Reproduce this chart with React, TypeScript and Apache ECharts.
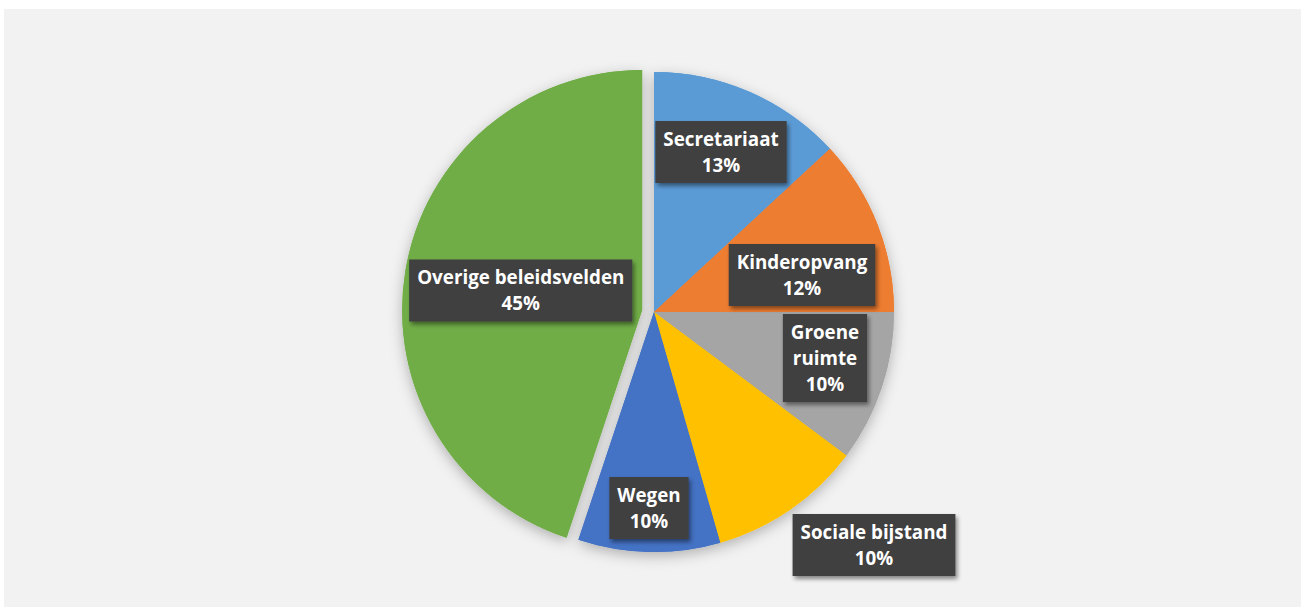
import React, { useEffect, useRef } from "react";
import * as echarts from "echarts";

const categories = [
  "Secretariaat",
  "Kinderopvang",
  "Groene ruimte",
  "Sociale bijstand",
  "Wegen",
  "Overige beleidsvelden",
];
const values = [13.1, 11.9, 10.2, 10.35, 9.55, 44.9];
const colors = ["#5B9BD5", "#ED7D31", "#A5A5A5", "#FFC000", "#4472C4", "#70AD47"];
// label box centres (px)
const labelCenters: [number, number][] = [
  [721, 152],
  [802, 275],
  [825, 358],
  [874, 545],
  [649, 508],
  [529, 280],
];
const wrappedIndex = 2;
const explodedIndex = 5;

export default function App() {
  const ref = useRef<HTMLDivElement>(null);
  useEffect(() => {
    if (!ref.current) return;
    const chart = echarts.init(ref.current, undefined, { renderer: "svg" });
    const data = categories.map((name, i) => ({
      name,
      value: values[i],
      selected: i === explodedIndex,
      itemStyle: { color: colors[i] },
    }));
    const common = {
      type: "pie",
      center: [654, 312],
      radius: 240,
      startAngle: 90,
      clockwise: true,
      selectedMode: "multiple",
      selectedOffset: 12,
      percentPrecision: 0,
      avoidLabelOverlap: false,
      emphasis: { disabled: true },
      silent: true,
      labelLine: { show: false },
      data,
    };
    chart.setOption({
      animation: false,
      backgroundColor: "#ffffff",
      graphic: [
        {
          type: "rect",
          shape: { x: 4, y: 9, width: 1297, height: 598 },
          style: { fill: "#f2f2f2" },
          z: -10,
          silent: true,
        },
      ],
      series: [
        {
          ...common,
          z: 1,
          label: { show: false },
          itemStyle: {
            shadowBlur: 14,
            shadowColor: "rgba(0,0,0,0.28)",
            shadowOffsetY: 4,
          },
        },
        {
          ...common,
          z: 2,
          label: {
            show: true,
            position: "inside",
            formatter: (p: any) =>
              (p.dataIndex === wrappedIndex ? p.name.replace(" ", "\n") : p.name) +
              "\n" +
              p.percent +
              "%",
            color: "#ffffff",
            fontFamily: "Open Sans",
            fontWeight: "bold",
            fontSize: 18.8,
            lineHeight: 26,
            align: "center",
            backgroundColor: "#3f3f3f",
            padding: [5, 8, 5, 8],
            shadowBlur: 4,
            shadowColor: "rgba(0,0,0,0.45)",
            shadowOffsetX: 2,
            shadowOffsetY: 3,
          },
          labelLayout: (p: any) => {
            const c = labelCenters[p.dataIndex];
            return { x: c[0], y: c[1], align: "center", verticalAlign: "middle" };
          },
        },
      ],
    });
    return () => chart.dispose();
  }, []);
  return (
    <div
      ref={ref}
      style={{ position: "absolute", left: 0, top: 0, width: 1301, height: 607 }}
    />
  );
}
